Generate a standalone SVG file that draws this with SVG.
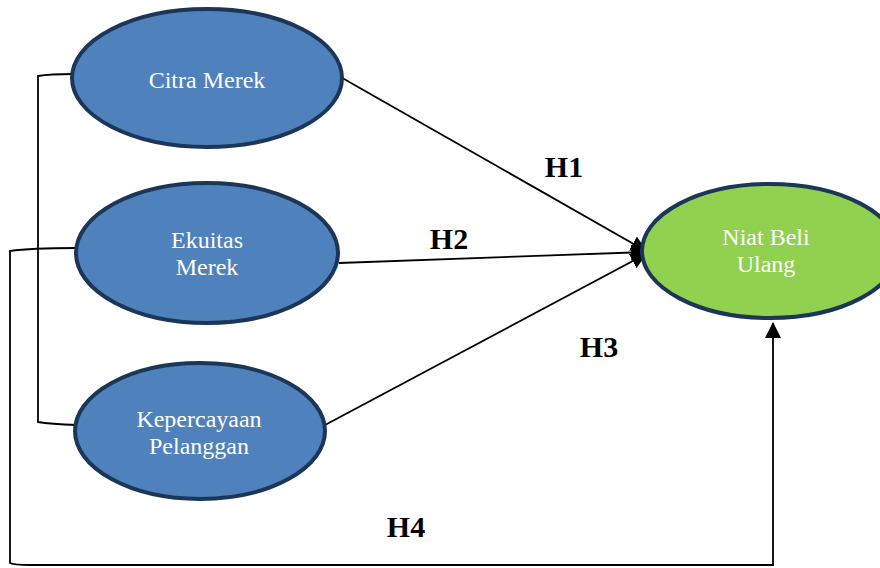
<svg xmlns="http://www.w3.org/2000/svg" width="880" height="568" viewBox="0 0 880 568">
<style>
.node{fill:#4f81bd;stroke:#1c3658;stroke-width:4}
.green{fill:#92d050}
.lbl{font-family:"Liberation Serif",serif;font-size:24px;fill:#ffffff;text-anchor:middle}
.h{font-family:"Liberation Serif",serif;font-size:30px;font-weight:bold;fill:#000;text-anchor:middle}
.ln{fill:none;stroke:#000;stroke-width:1.8}
</style>
<defs>
<marker id="arr" viewBox="0 0 16 16" refX="15" refY="8" markerWidth="16" markerHeight="16" markerUnits="userSpaceOnUse" orient="auto">
<path d="M0,0 L16,8 L0,16 Z" fill="#000"/>
</marker>
</defs>
<rect width="880" height="568" fill="#fff"/>
<g id="connectors">
<path class="ln" d="M73,74 Q50,74 38,76 L38,422 Q50,424 77,425"/>
<path class="ln" d="M77,248 Q30,248 10,251 L10,563 Q14,565 30,565 L773,565 L773,323" marker-end="url(#arr)"/>
<line class="ln" x1="337" y1="75" x2="646" y2="251" marker-end="url(#arr)"/>
<line class="ln" x1="339" y1="263" x2="646" y2="252" marker-end="url(#arr)"/>
<line class="ln" x1="325" y1="425" x2="646" y2="254" marker-end="url(#arr)"/>
</g>
<g id="citra">
<ellipse class="node" cx="207" cy="78" rx="135" ry="69"/>
<text class="lbl" x="207" y="88">Citra Merek</text>
</g>
<g id="ekuitas">
<ellipse class="node" cx="207" cy="253" rx="131" ry="70"/>
<text class="lbl" x="207" y="248">Ekuitas</text>
<text class="lbl" x="207" y="275">Merek</text>
</g>
<g id="kepercayaan">
<ellipse class="node" cx="200" cy="431" rx="125" ry="68"/>
<text class="lbl" x="199" y="427">Kepercayaan</text>
<text class="lbl" x="199" y="454">Pelanggan</text>
</g>
<g id="niat">
<ellipse class="node green" cx="770" cy="251" rx="128" ry="67"/>
<text class="lbl" x="766" y="245">Niat Beli</text>
<text class="lbl" x="766" y="272">Ulang</text>
</g>
<g id="labels">
<text class="h" x="564" y="177">H1</text>
<text class="h" x="449" y="249">H2</text>
<text class="h" x="599" y="357">H3</text>
<text class="h" x="406" y="537">H4</text>
</g>
</svg>
